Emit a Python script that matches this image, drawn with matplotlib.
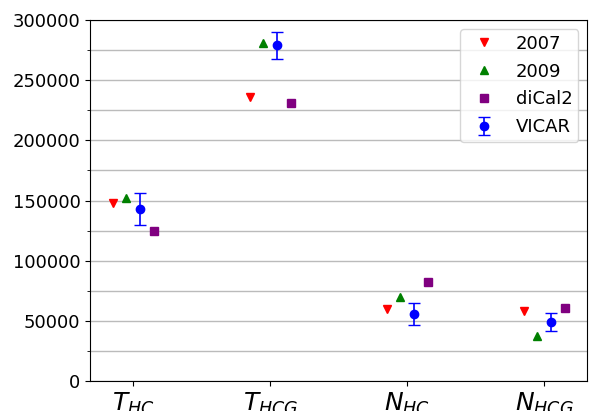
import numpy as np
import matplotlib
matplotlib.use('Agg')
import matplotlib.pyplot as plt
from matplotlib.ticker import MultipleLocator

# Data
params = [r'$T_{HC}$', r'$T_{HCG}$', r'$N_{HC}$', r'$N_{HCG}$']
v2007 = [148000, 236000, 60000, 58000]
v2009 = [152000, 281000, 70000, 37000]
dical2 = [125000, 231000, 82000, 61000]
vicar = [143000, 279000, 55700, 49000]
vicar_err = [13000, 11500, 8800, 7500]

x = np.arange(len(params))

fig, ax = plt.subplots(figsize=(5.89, 4.11), dpi=100)

ax.plot(x - 0.15, v2007, 'v', color='red', markersize=6, label='2007', linestyle='none')
ax.plot(x - 0.05, v2009, '^', color='green', markersize=6, label='2009', linestyle='none')
ax.plot(x + 0.15, dical2, 's', color='purple', markersize=6, label='diCal2', linestyle='none')
ax.errorbar(x + 0.05, vicar, yerr=vicar_err, fmt='o', color='blue', markersize=6,
            capsize=4, elinewidth=1.2, label='VICAR')

ax.set_xticks(x)
ax.set_xticklabels(params, fontsize=18)
ax.set_ylim(0, 300000)
ax.yaxis.set_major_locator(MultipleLocator(50000))
ax.yaxis.set_minor_locator(MultipleLocator(25000))
ax.tick_params(axis='y', labelsize=13)
ax.grid(True, axis='y', which='both', color='#bbbbbb', linewidth=1)
ax.set_axisbelow(True)

ax.legend(loc='upper right', fontsize=13, numpoints=1, borderpad=0.3,
          labelspacing=0.55, borderaxespad=0.5)

plt.subplots_adjust(left=0.153, right=0.997, top=0.951, bottom=0.073)
plt.savefig('out.png', dpi=100)
